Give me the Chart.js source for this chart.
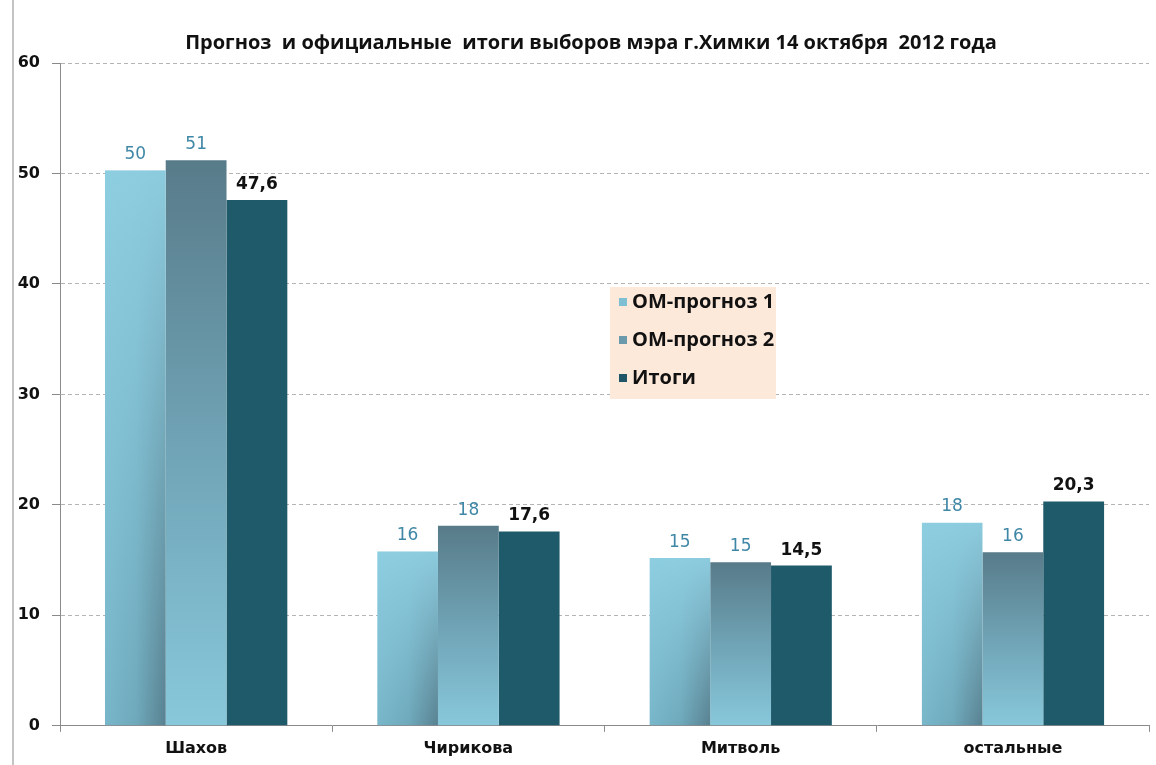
<!DOCTYPE html>
<html>
<head>
<meta charset="utf-8">
<script src="https://cdn.jsdelivr.net/npm/chart.js@4/dist/chart.umd.min.js"></script>
<style>
  html, body { margin: 0; padding: 0; background: #fff; }
  #wrap { position: relative; width: 1156px; height: 765px; }
  #wrap:before { content: ''; position: absolute; left: 12px; top: 0; bottom: 0; width: 2px; background: #c4c4c4; }
</style>
</head>
<body>
<div id="wrap"><canvas id="electionChart" width="1156" height="765"></canvas></div>
<script>
// Данные
const chartTitle = 'Прогноз  и официальные  итоги выборов мэра г.Химки 14 октября  2012 года';
const candidates = ['Шахов', 'Чирикова', 'Митволь', 'остальные'];
const seriesNames = ['ОМ-прогноз 1', 'ОМ-прогноз 2', 'Итоги'];
const forecast1 = [50.3, 15.8, 15.2, 18.4];
const forecast2 = [51.2, 18.1, 14.8, 15.7];
const results = [47.6, 17.6, 14.5, 20.3];
const yTicks = [0, 10, 20, 30, 40, 50, 60];

const CAT_PCT = 0.67;

// x-границы столбика по индексу набора
function barBounds(chart, dsIndex, dataIndex) {
    const xs = chart.scales.x;
    const catW = xs.width / candidates.length;
    const group = catW * CAT_PCT;
    const w = group / 3;
    const center = xs.getPixelForValue(dataIndex);
    const left = center - group / 2 + dsIndex * w;
    return { left: left, right: left + w };
}

// первый ряд: горизонтальный градиент + светлый верх (через pattern)
function fill1(context) {
    const chart = context.chart;
    if (!chart.chartArea || context.type !== 'data') return '#86c5d8';
    const b = barBounds(chart, 0, context.dataIndex);
    const top = chart.scales.y.getPixelForValue(forecast1[context.dataIndex]);
    const bottom = chart.scales.y.getPixelForValue(0);
    const w = Math.ceil(b.right - b.left) + 1;
    const h = Math.ceil(bottom - top) + 1;
    const off = document.createElement('canvas');
    off.width = w;
    off.height = h;
    const o = off.getContext('2d');
    const hg = o.createLinearGradient(0, 0, w, 0);
    hg.addColorStop(0, '#78b6c9');
    hg.addColorStop(0.5, '#6ea9bb');
    hg.addColorStop(1, '#577f8e');
    o.fillStyle = hg;
    o.fillRect(0, 0, w, h);
    const vg = o.createLinearGradient(0, 0, 0, h);
    vg.addColorStop(0, 'rgba(143,207,226,0.95)');
    vg.addColorStop(1, 'rgba(143,207,226,0)');
    o.fillStyle = vg;
    o.fillRect(0, 0, w, h);
    const p = chart.ctx.createPattern(off, 'no-repeat');
    p.setTransform(new DOMMatrix([1, 0, 0, 1, b.left, top]));
    return p;
}

function fill2(context) {
    const chart = context.chart;
    if (!chart.chartArea || context.type !== 'data') return '#6d9cac';
    const top = chart.scales.y.getPixelForValue(forecast2[context.dataIndex]);
    const bottom = chart.scales.y.getPixelForValue(0);
    const g = chart.ctx.createLinearGradient(0, top, 0, bottom);
    g.addColorStop(0, '#587b89');
    g.addColorStop(0.5, '#6fa3b5');
    g.addColorStop(1, '#88c8db');
    return g;
}

// заголовок
const titlePlugin = {
    id: 'titlePlugin',
    afterDraw(chart) {
        const ctx = chart.ctx;
        ctx.save();
        ctx.fillStyle = '#111';
        ctx.font = 'bold 20px "Open Sans"';
        ctx.textAlign = 'center';
        ctx.textBaseline = 'middle';
        ctx.fillText(chartTitle, 591, 43);
        ctx.restore();
    }
};

// подписи над столбиками
const valueLabels = {
    id: 'valueLabels',
    afterDatasetsDraw(chart) {
        const ctx = chart.ctx;
        ctx.save();
        ctx.textAlign = 'center';
        ctx.textBaseline = 'bottom';
        chart.data.datasets.forEach((ds, i) => {
            const meta = chart.getDatasetMeta(i);
            meta.data.forEach((el, j) => {
                const v = ds.data[j];
                let text;
                if (i === 2) {
                    ctx.fillStyle = '#111';
                    ctx.font = 'bold 17px "DejaVu Sans"';
                    text = v.toFixed(1).replace('.', ',');
                } else {
                    ctx.fillStyle = '#3f87a6';
                    ctx.font = '17px "DejaVu Sans"';
                    text = String(Math.round(v));
                }
                ctx.fillText(text, el.x, el.y - 7);
            });
        });
        ctx.restore();
    }
};

// легенда в области графика
const boxLegend = {
    id: 'boxLegend',
    afterDraw(chart) {
        const ctx = chart.ctx;
        const swatches = ['#7fbfd3', '#6a9aab', '#1f5566'];
        ctx.save();
        ctx.fillStyle = '#fde9da';
        ctx.fillRect(610, 287, 166, 112);
        ctx.font = 'bold 20px "Open Sans"';
        ctx.textBaseline = 'middle';
        ctx.textAlign = 'left';
        chart.data.datasets.forEach((ds, i) => {
            const y = 302 + i * 38;
            ctx.fillStyle = swatches[i];
            ctx.fillRect(619, y - 4, 8, 8);
            ctx.fillStyle = '#111';
            ctx.fillText(ds.label, 632, y);
        });
        ctx.restore();
    }
};

const ctx = document.getElementById('electionChart').getContext('2d');
const electionChart = new Chart(ctx, {
    type: 'bar',
    data: {
        labels: candidates,
        datasets: [
            { label: seriesNames[0], data: forecast1, backgroundColor: fill1 },
            { label: seriesNames[1], data: forecast2, backgroundColor: fill2 },
            { label: seriesNames[2], data: results, backgroundColor: '#1f5a6a' }
        ]
    },
    options: {
        responsive: false,
        animation: false,
        layout: { padding: { left: 0, right: 7, top: 63, bottom: 0 } },
        datasets: {
            bar: { categoryPercentage: CAT_PCT, barPercentage: 1, borderWidth: 0 }
        },
        plugins: {
            legend: { display: false },
            tooltip: { enabled: false },
            title: { display: false }
        },
        scales: {
            x: {
                grid: { display: true, drawOnChartArea: false, offset: true, tickLength: 6, color: '#8a8a8a' },
                border: { color: '#8a8a8a', width: 1 },
                ticks: {
                    color: '#111',
                    padding: 7,
                    font: { family: '"DejaVu Sans"', size: 16, weight: 'bold' }
                }
            },
            y: {
                min: 0,
                max: 60,
                afterFit(scale) { scale.width = 60; },
                afterBuildTicks(scale) { scale.ticks = yTicks.map(v => ({ value: v })); },
                grid: {
                    color: (c) => c.tick && c.tick.value === 0 ? 'rgba(0,0,0,0)' : '#b4b4b4',
                    tickColor: '#8a8a8a',
                    tickLength: 8,
                    tickBorderDash: []
                },
                border: { color: '#8a8a8a', width: 1, dash: [4, 3] },
                ticks: {
                    color: '#111',
                    padding: 12,
                    font: { family: '"DejaVu Sans"', size: 16, weight: 'bold' }
                }
            }
        }
    },
    plugins: [valueLabels, boxLegend, titlePlugin]
});
</script>
</body>
</html>
